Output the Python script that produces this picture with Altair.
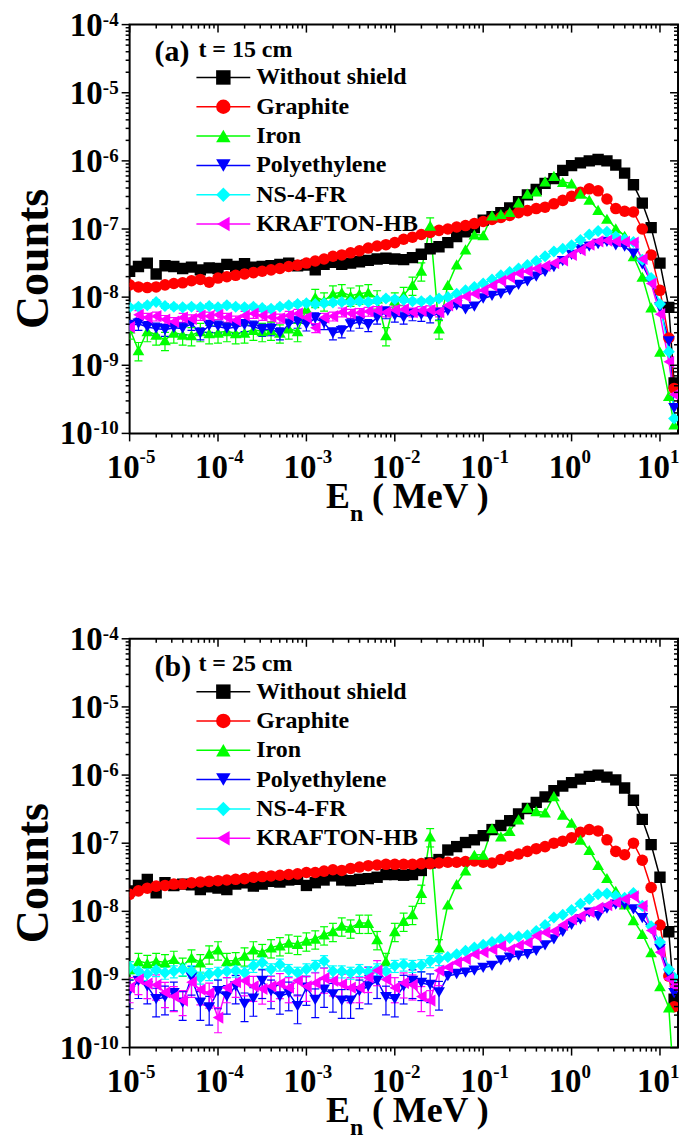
import altair as alt
import pandas as pd

# ---------------- data (log10 values) ----------------
LOG_E = [-5.0, -4.9, -4.8, -4.7, -4.6, -4.5, -4.4, -4.3, -4.2, -4.1,
         -4.0, -3.9, -3.8, -3.7, -3.6, -3.5, -3.4, -3.3, -3.2, -3.1,
         -3.0, -2.9, -2.8, -2.7, -2.6, -2.5, -2.4, -2.3, -2.2, -2.1,
         -2.0, -1.9, -1.8, -1.7, -1.6, -1.5, -1.4, -1.3, -1.2, -1.1,
         -1.0, -0.9, -0.8, -0.7, -0.6, -0.5, -0.4, -0.3, -0.2, -0.1,
         0.0, 0.1, 0.2, 0.3, 0.4, 0.5, 0.6, 0.7, 0.8, 0.9,
         1.0, 1.1, 1.16]

SERIES = ["Without shield", "Graphite", "Iron", "Polyethylene", "NS-4-FR", "KRAFTON-HB"]
COLORS = ["#000000", "#ff0000", "#00ff00", "#0000ff", "#00ffff", "#ff00ff"]
SHAPES = ["square", "circle", "triangle-up", "triangle-down", "diamond", "triangle-left"]
SIZES = [130, 150, 180, 180, 200, 180]

# typical relative statistical error of the low-energy points (E < 0.03 MeV)
ERR_A = [0.06, 0.05, 0.30, 0.20, 0.08, 0.15]
ERR_B = [0.10, 0.06, 0.30, 0.45, 0.20, 0.40]

A_BLACK = [-7.62, -7.55, -7.50, -7.66, -7.54, -7.55, -7.58, -7.56, -7.60, -7.57,
           -7.58, -7.52, -7.55, -7.51, -7.56, -7.55, -7.54, -7.52, -7.50, -7.54,
           -7.53, -7.60, -7.52, -7.49, -7.52, -7.50, -7.48, -7.46, -7.44, -7.43,
           -7.44, -7.45, -7.42, -7.37, -7.29, -7.26, -7.20, -7.11, -7.04, -6.98,
           -6.87, -6.82, -6.76, -6.69, -6.60, -6.50, -6.42, -6.33, -6.26, -6.14,
           -6.07, -6.03, -6.00, -5.98, -6.00, -6.06, -6.18, -6.35, -6.62, -6.98,
           -7.50, -8.15, -9.26]
A_RED = [-7.82, -7.85, -7.86, -7.85, -7.82, -7.80, -7.79, -7.76, -7.74, -7.78,
         -7.72, -7.70, -7.68, -7.66, -7.64, -7.62, -7.60, -7.58, -7.55, -7.53,
         -7.50, -7.47, -7.44, -7.40, -7.38, -7.35, -7.32, -7.28, -7.25, -7.23,
         -7.20, -7.15, -7.12, -7.08, -7.05, -7.02, -7.00, -6.97, -6.95, -6.92,
         -6.89, -6.86, -6.83, -6.80, -6.76, -6.73, -6.70, -6.68, -6.63, -6.58,
         -6.52, -6.46, -6.41, -6.44, -6.56, -6.70, -6.74, -6.75, -7.00, -7.38,
         -7.90, -8.60, -9.34]
A_GREEN = [-8.46, -8.78, -8.50, -8.55, -8.63, -8.52, -8.55, -8.56, -8.50, -8.53,
           -8.52, -8.50, -8.53, -8.52, -8.48, -8.50, -8.48, -8.52, -8.46, -8.50,
           -8.17, -8.00, -8.05, -7.95, -7.93, -7.98, -7.95, -7.93, -8.02, -8.56,
           -8.05, -7.97, -7.82, -7.61, -6.95, -8.46, -7.82, -7.52, -7.30, -7.08,
           -7.09, -6.80, -6.78, -6.75, -6.61, -6.48, -6.45, -6.30, -6.22, -6.31,
           -6.33, -6.48, -6.57, -6.72, -6.85, -6.99, -7.10, -7.40, -7.70, -8.15,
           -8.80, -9.45, -9.87]
A_BLUE = [-8.42, -8.39, -8.44, -8.46, -8.48, -8.45, -8.46, -8.39, -8.53, -8.42,
          -8.43, -8.46, -8.44, -8.41, -8.43, -8.48, -8.47, -8.53, -8.40, -8.36,
          -8.40, -8.31, -8.38, -8.53, -8.50, -8.40, -8.36, -8.41, -8.30, -8.22,
          -8.27, -8.30, -8.25, -8.26, -8.28, -8.24, -8.20, -8.12, -8.18, -8.14,
          -8.02, -7.98, -7.95, -7.90, -7.82, -7.77, -7.70, -7.63, -7.56, -7.47,
          -7.38, -7.30, -7.26, -7.22, -7.19, -7.24, -7.26, -7.36, -7.52, -7.78,
          -8.15, -8.65, -9.63]
A_CYAN = [-8.15, -8.14, -8.12, -8.07, -8.13, -8.14, -8.15, -8.14, -8.15, -8.13,
          -8.15, -8.12, -8.14, -8.15, -8.14, -8.16, -8.17, -8.14, -8.12, -8.10,
          -8.09, -8.10, -8.09, -8.08, -8.07, -8.07, -8.06, -8.07, -8.05, -8.02,
          -8.03, -8.04, -8.06, -8.06, -8.05, -8.02, -8.00, -7.95, -7.90, -7.85,
          -7.80, -7.74, -7.68, -7.63, -7.58, -7.53, -7.47, -7.40, -7.33, -7.29,
          -7.24, -7.16, -7.08, -7.03, -7.04, -7.11, -7.15, -7.19, -7.45, -7.72,
          -8.10, -8.80, -9.78]
A_MAG = [-8.44, -8.26, -8.30, -8.28, -8.33, -8.36, -8.30, -8.32, -8.27, -8.28,
         -8.26, -8.30, -8.34, -8.27, -8.24, -8.27, -8.29, -8.31, -8.27, -8.24,
         -8.30, -8.45, -8.30, -8.28, -8.22, -8.24, -8.23, -8.21, -8.20, -8.22,
         -8.19, -8.18, -8.22, -8.20, -8.19, -8.22, -8.12, -8.05, -7.99, -7.95,
         -7.90, -7.83, -7.76, -7.71, -7.65, -7.62, -7.58, -7.54, -7.50, -7.46,
         -7.38, -7.31, -7.23, -7.18, -7.17, -7.18, -7.19, -7.20, -7.44, -7.80,
         -8.25, -8.95, -9.43]

B_BLACK = [-7.70, -7.62, -7.53, -7.73, -7.58, -7.62, -7.60, -7.61, -7.68, -7.64,
           -7.66, -7.68, -7.60, -7.58, -7.63, -7.60, -7.56, -7.57, -7.54, -7.53,
           -7.62, -7.58, -7.54, -7.48, -7.54, -7.55, -7.53, -7.52, -7.50, -7.46,
           -7.46, -7.47, -7.46, -7.40, -7.29, -7.24, -7.10, -7.05, -6.99, -6.95,
           -6.89, -6.80, -6.74, -6.67, -6.57, -6.49, -6.40, -6.32, -6.23, -6.16,
           -6.11, -6.06, -6.02, -6.00, -6.03, -6.07, -6.19, -6.37, -6.65, -7.02,
           -7.50, -8.30, -9.29]
B_RED = [-7.75, -7.70, -7.66, -7.63, -7.62, -7.60, -7.60, -7.58, -7.57, -7.56,
         -7.55, -7.54, -7.53, -7.52, -7.50, -7.49, -7.48, -7.47, -7.46, -7.45,
         -7.43, -7.43, -7.41, -7.39, -7.40, -7.37, -7.35, -7.33, -7.32, -7.31,
         -7.31, -7.31, -7.31, -7.30, -7.30, -7.29, -7.28, -7.28, -7.27, -7.26,
         -7.28, -7.29, -7.24, -7.19, -7.16, -7.12, -7.08, -7.05, -7.00, -6.97,
         -6.92, -6.84, -6.80, -6.82, -6.95, -7.12, -7.17, -7.00, -7.25, -7.65,
         -8.20, -8.95, -9.40]
B_GREEN = [-8.85, -8.73, -8.76, -8.73, -8.75, -8.70, -8.80, -8.68, -8.75, -8.62,
           -8.56, -8.73, -8.72, -8.65, -8.56, -8.60, -8.53, -8.50, -8.46, -8.48,
           -8.43, -8.40, -8.34, -8.29, -8.21, -8.24, -8.17, -8.17, -8.41, -8.73,
           -8.29, -8.14, -8.04, -7.73, -6.90, -8.53, -7.90, -7.60, -7.40, -7.17,
           -7.17, -6.78, -6.90, -6.82, -6.65, -6.48, -6.53, -6.55, -6.31, -6.58,
           -6.70, -6.95, -7.10, -7.32, -7.51, -7.70, -7.90, -8.13, -8.33, -8.60,
           -9.10, -9.41, -10.6]
B_BLUE = [-9.17, -9.02, -9.10, -9.29, -9.26, -9.20, -9.34, -8.97, -9.34, -9.41,
          -9.17, -9.25, -9.10, -9.36, -9.28, -9.02, -9.17, -9.25, -9.20, -9.39,
          -9.12, -9.30, -9.15, -9.22, -9.31, -9.31, -9.17, -9.10, -9.02, -9.26,
          -9.29, -9.10, -9.02, -9.05, -9.08, -9.19, -8.95, -8.92, -8.90, -8.87,
          -8.83, -8.80, -8.72, -8.68, -8.65, -8.63, -8.58, -8.50, -8.41, -8.30,
          -8.20, -8.12, -8.02, -8.07, -7.96, -7.90, -7.90, -7.97, -8.10, -8.26,
          -8.55, -8.92, -9.20]
B_CYAN = [-8.82, -8.88, -8.92, -8.86, -8.90, -8.88, -8.85, -8.88, -8.97, -8.92,
          -8.90, -8.88, -8.87, -8.90, -8.80, -8.75, -8.85, -8.78, -8.86, -8.90,
          -8.85, -8.80, -8.73, -8.88, -8.88, -8.90, -8.86, -8.89, -8.85, -8.88,
          -8.80, -8.78, -8.80, -8.79, -8.73, -8.70, -8.67, -8.63, -8.58, -8.53,
          -8.49, -8.45, -8.41, -8.39, -8.37, -8.35, -8.29, -8.20, -8.09, -8.05,
          -7.98, -7.89, -7.82, -7.75, -7.74, -7.77, -7.80, -7.73, -7.92, -8.22,
          -8.45, -8.85, -8.97]
B_MAG = [-9.12, -9.00, -9.06, -9.08, -9.19, -9.25, -9.31, -9.04, -9.15, -9.20,
         -9.56, -9.12, -9.04, -9.02, -9.10, -9.14, -9.10, -9.06, -9.12, -9.02,
         -9.10, -9.05, -8.98, -9.02, -9.07, -9.12, -9.12, -8.97, -8.87, -9.00,
         -9.12, -9.05, -9.08, -9.25, -9.31, -8.87, -8.82, -8.75, -8.70, -8.63,
         -8.60, -8.56, -8.51, -8.56, -8.50, -8.46, -8.36, -8.31, -8.29, -8.20,
         -8.12, -8.07, -8.01, -7.95, -7.91, -7.87, -7.82, -7.78, -7.92, -8.28,
         -8.60, -8.99, -9.10]

PANEL_A = [A_BLACK, A_RED, A_GREEN, A_BLUE, A_CYAN, A_MAG]
PANEL_B = [B_BLACK, B_RED, B_GREEN, B_BLUE, B_CYAN, B_MAG]

X_MAJOR = [1e-5, 1e-4, 1e-3, 1e-2, 1e-1, 1e0, 1e1]
X_EXP = ["-5", "-4", "-3", "-2", "-1", "0", "1"]
Y_MAJOR = [1e-10, 1e-9, 1e-8, 1e-7, 1e-6, 1e-5, 1e-4]
Y_EXP = ["-10", "-9", "-8", "-7", "-6", "-5", "-4"]
X_MINOR = [k * 10.0 ** d for d in range(-5, 1) for k in range(2, 10)]
Y_MINOR = [k * 10.0 ** d for d in range(-10, -4) for k in range(2, 10)]

# ---------------- layout constants ----------------
W, H = 550, 410
FONT = "Liberation Serif"
xscale = alt.Scale(type="log", domain=[1e-5, 10 ** 1.204], nice=False)
yscale = alt.Scale(type="log", domain=[1e-10, 1e-4], nice=False)
cscale = alt.Scale(domain=SERIES, range=COLORS)
shscale = alt.Scale(domain=SERIES, range=SHAPES)
szscale = alt.Scale(domain=SERIES, range=SIZES)
ONE = pd.DataFrame({"a": [0]})


def make_df(panel, errs):
    rows = []
    for k, (name, vals, r) in enumerate(zip(SERIES, panel, errs)):
        for le, lc in zip(LOG_E, vals):
            c = 10 ** lc
            rr = r if le <= -1.5 else 0.0
            rows.append({"E": 10 ** le, "C": c, "lo": c * (1 - rr), "hi": c * (1 + rr),
                         "series": name, "k": k, "has_err": rr > 0})
    return pd.DataFrame(rows)


def X(field="E"):
    return alt.X(f"{field}:Q", scale=xscale, axis=None)


def Y(field="C"):
    return alt.Y(f"{field}:Q", scale=yscale, axis=None)


COLOR = alt.Color("series:N", scale=cscale, legend=None)


def panel(values, errs, tag, tlabel):
    df = make_df(values, errs)
    lines = alt.Chart(df).mark_line(strokeWidth=1.5, clip=True).encode(
        x=X(), y=Y(), color=COLOR, detail="series:N")

    errdf = alt.Chart(df).transform_filter("datum.has_err && datum.C >= 1e-10")
    ebars = errdf.mark_rule(strokeWidth=1.2, clip=True).encode(
        x=X(), y=Y("lo"), y2="hi:Q", color=COLOR)
    caps_lo = errdf.mark_point(shape="stroke", size=64, strokeWidth=1.2, clip=True, opacity=1).encode(
        x=X(), y=Y("lo"), color=COLOR)
    caps_hi = errdf.mark_point(shape="stroke", size=64, strokeWidth=1.2, clip=True, opacity=1).encode(
        x=X(), y=Y("hi"), color=COLOR)

    points = alt.Chart(df).transform_filter("datum.C >= 1e-10").mark_point(
        filled=True, opacity=1, clip=True
    ).encode(
        x=X(), y=Y(), color=COLOR,
        shape=alt.Shape("series:N", scale=shscale, legend=None),
        size=alt.Size("series:N", scale=szscale, legend=None),
        order=alt.Order("k:Q"),
    )

    xmaj = pd.DataFrame({"v": X_MAJOR, "e": X_EXP})
    xmin = pd.DataFrame({"v": X_MINOR})
    ymaj = pd.DataFrame({"v": Y_MAJOR, "e": Y_EXP})
    ymin = pd.DataFrame({"v": Y_MINOR})

    def xt(d, y0, y1):
        return alt.Chart(d).mark_rule(color="black", strokeWidth=1.5).encode(
            x=X("v"), y=alt.value(y0), y2=alt.value(y1))

    def yt(d, x0, x1):
        return alt.Chart(d).mark_rule(color="black", strokeWidth=1.5).encode(
            y=Y("v"), x=alt.value(x0), x2=alt.value(x1))

    ticks = [
        xt(xmin, H, H + 4), xt(xmaj, H, H + 8), xt(xmin, 0, 4), xt(xmaj, 0, 8),
        yt(ymin, 0, -4), yt(ymaj, 0, -8), yt(ymin, W, W - 4), yt(ymaj, W, W - 8),
    ]

    tb = dict(font=FONT, fontWeight="bold", color="black")
    xlabels = [
        alt.Chart(xmaj).mark_text(text="10", fontSize=33, align="right", baseline="alphabetic", dx=10, **tb)
        .encode(x=X("v"), y=alt.value(H + 45)),
        alt.Chart(xmaj).mark_text(fontSize=19, align="left", baseline="alphabetic", dx=10, **tb)
        .encode(x=X("v"), y=alt.value(H + 30), text="e:N"),
    ]
    yl2 = alt.Chart(ymaj).transform_filter("length(datum.e) == 2")
    yl3 = alt.Chart(ymaj).transform_filter("length(datum.e) == 3")
    ylabels = [
        yl2.mark_text(text="10", fontSize=33, align="right", baseline="alphabetic", dy=11, **tb)
        .encode(y=Y("v"), x=alt.value(-27)),
        yl3.mark_text(text="10", fontSize=33, align="right", baseline="alphabetic", dy=11, **tb)
        .encode(y=Y("v"), x=alt.value(-37)),
        alt.Chart(ymaj).mark_text(fontSize=19, align="right", baseline="alphabetic", dy=1, **tb)
        .encode(y=Y("v"), x=alt.value(-11), text="e:N"),
    ]

    def label(txt, size, x, y, **kw):
        opts = dict(align="left", baseline="alphabetic")
        opts.update(kw)
        return alt.Chart(ONE).mark_text(text=txt, fontSize=size, **opts, **tb).encode(
            x=alt.value(x), y=alt.value(y))

    titles = [
        label("E", 36, 197, H + 75),
        label("n", 24, 221, H + 88),
        label("( MeV )", 36, 243, H + 75),
        label("Counts", 46, -82, 235, angle=270, align="center"),
        label(tag, 30, 25, 28, baseline="middle"),
        label(tlabel, 24, 69, 25, baseline="middle"),
    ]

    leg = pd.DataFrame({"series": SERIES, "k": list(range(len(SERIES)))})
    legbase = alt.Chart(leg).transform_calculate(py="53 + 29.4 * datum.k")
    legend = [
        legbase.mark_rule(strokeWidth=1.5).encode(
            x=alt.value(67), x2=alt.value(121), y=alt.Y("py:Q", scale=None), color=COLOR),
        legbase.mark_point(filled=True, opacity=1, size=210).encode(
            x=alt.value(94), y=alt.Y("py:Q", scale=None), color=COLOR,
            shape=alt.Shape("series:N", scale=shscale, legend=None)),
        legbase.mark_text(fontSize=24, align="left", baseline="middle", **tb).encode(
            x=alt.value(127), y=alt.Y("py:Q", scale=None), text="series:N"),
    ]

    return alt.layer(lines, ebars, caps_lo, caps_hi, points, *ticks, *xlabels, *ylabels,
                     *titles, *legend).properties(width=W, height=H)


top = panel(PANEL_A, ERR_A, "(a)", "t = 15 cm")
bottom = panel(PANEL_B, ERR_B, "(b)", "t = 25 cm")

chart = alt.vconcat(top, bottom, spacing=96).properties(
    padding={"left": 10, "top": 7, "right": 0, "bottom": 0}
).configure_view(stroke="black", strokeWidth=2)

chart.save("out.html", embed_options={"renderer": "svg", "actions": False})
